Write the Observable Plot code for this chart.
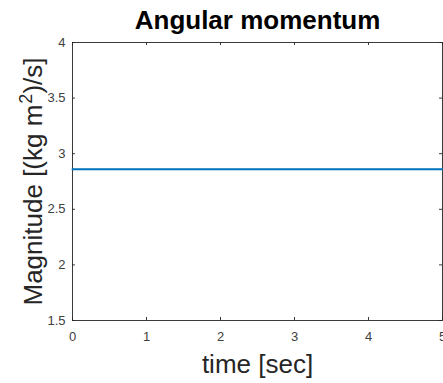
<!DOCTYPE html>
<html>
<head>
<meta charset="utf-8">
<script src="https://cdn.jsdelivr.net/npm/d3@7"></script>
<script src="https://cdn.jsdelivr.net/npm/@observablehq/plot@0.6"></script>
<style>
  html, body { margin: 0; padding: 0; background: #fff; }
  svg { display: block; }
</style>
</head>
<body>
<div id="chart"></div>
<script>
const title = "Angular momentum";
const xLabel = "time [sec]";
const yLabelParts = ["Magnitude [(kg m", "2", ")/s]"];
const xTicks = [0, 1, 2, 3, 4, 5];
const yTicks = [1.5, 2, 2.5, 3, 3.5, 4];
const time = [0, 1, 2, 3, 4, 5];
const magnitude = [2.86, 2.86, 2.86, 2.86, 2.86, 2.86];

const data = time.map((t, i) => ({t, m: magnitude[i]}));
const axisColor = "#262626";
const tickLabelColor = "#404040";
const font = "Liberation Sans, Arial, Helvetica, sans-serif";

const W = 443, H = 383, mL = 72, mR = 1, mT = 42, mB = 63;
const plotW = W - mL - mR, plotH = H - mT - mB;
const tickLen = 3;

const chart = Plot.plot({
  width: W,
  height: H,
  marginLeft: mL,
  marginRight: mR,
  marginTop: mT,
  marginBottom: mB,
  style: {fontFamily: font, color: axisColor, background: "#fff"},
  x: {domain: [0, 5]},
  y: {domain: [1.5, 4]},
  marks: [
    Plot.frame({stroke: axisColor, strokeOpacity: 0.9}),
    // inward ticks on all four sides
    Plot.ruleX(xTicks, {x: d => d, insetTop: plotH - tickLen, stroke: axisColor, strokeOpacity: 0.9}),
    Plot.ruleX(xTicks, {x: d => d, insetBottom: plotH - tickLen, stroke: axisColor, strokeOpacity: 0.9}),
    Plot.ruleY(yTicks, {y: d => d, insetRight: plotW - tickLen, stroke: axisColor, strokeOpacity: 0.9}),
    Plot.ruleY(yTicks, {y: d => d, insetLeft: plotW - tickLen, stroke: axisColor, strokeOpacity: 0.9}),
    Plot.axisX(xTicks, {anchor: "bottom", tickSize: 0, tickPadding: 11, fontSize: 13, fill: tickLabelColor, tickFormat: d => String(d), label: xLabel, labelAnchor: "center", labelArrow: "none", labelOffset: 52}),
    Plot.axisY(yTicks, {anchor: "left", tickSize: 0, tickPadding: 7, fontSize: 13, fill: tickLabelColor, tickFormat: d => String(d), label: yLabelParts.join(""), labelAnchor: "center", labelArrow: "none", labelOffset: 49}),
    Plot.lineY(data, {x: "t", y: "m", stroke: "#0072BD", strokeWidth: 2}),
    Plot.text([title], {frameAnchor: "top", lineAnchor: "middle", dy: -21.5, text: d => d, fontSize: 26, fontWeight: "bold", fill: "#000"})
  ]
});

// axis label styling
const xl = chart.querySelector("g[aria-label='x-axis label'] text");
if (xl) { xl.setAttribute("font-size", 26); xl.setAttribute("fill", axisColor); }
const yl = chart.querySelector("g[aria-label='y-axis label'] text");
if (yl) {
  yl.setAttribute("font-size", 26);
  yl.setAttribute("fill", axisColor);
  yl.textContent = "";
  const ns = "http://www.w3.org/2000/svg";
  const t1 = document.createElementNS(ns, "tspan"); t1.textContent = yLabelParts[0];
  const t2 = document.createElementNS(ns, "tspan"); t2.textContent = yLabelParts[1];
  t2.setAttribute("font-size", 18); t2.setAttribute("dy", -10); t2.setAttribute("dx", 1);
  const t3 = document.createElementNS(ns, "tspan"); t3.textContent = yLabelParts[2];
  t3.setAttribute("dy", 10);
  yl.append(t1, t2, t3);
}
document.getElementById("chart").appendChild(chart);
</script>
</body>
</html>
